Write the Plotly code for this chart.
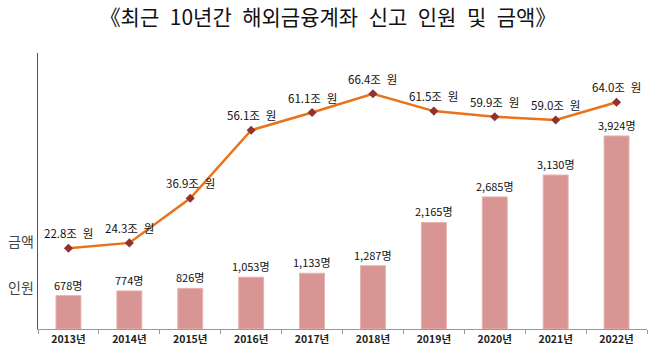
import plotly.graph_objects as go

years = ["2013년", "2014년", "2015년", "2016년", "2017년", "2018년", "2019년", "2020년", "2021년", "2022년"]
people = [678, 774, 826, 1053, 1133, 1287, 2165, 2685, 3130, 3924]
amounts = [22.8, 24.3, 36.9, 56.1, 61.1, 66.4, 61.5, 59.9, 59.0, 64.0]
people_labels = [f"{v:,}명" for v in people]
amount_labels = [f"{v:.1f}조\u2002원" for v in amounts]
title_text = "《최근\u200210년간\u2002해외금융계좌\u2002신고\u2002인원\u2002및\u2002금액》"

FONT = "Noto Sans CJK KR"

W, H = 670, 356
# plot area in page pixels: x 38..647, y 53..329 (page body margin removed below)
ml, mt = 38, 53
mr, mb = W - 647, H - 329
pw, ph = W - ml - mr, H - mt - mb

fig = go.Figure()
fig.add_trace(go.Bar(
    x=years, y=people, width=0.41,
    marker=dict(color="#d99593", line=dict(width=1, color="#e7b3b1")),
    yaxis="y", hoverinfo="skip",
))
fig.add_trace(go.Scatter(
    x=years, y=amounts, yaxis="y2", mode="lines+markers",
    line=dict(color="#ea7219", width=2.5),
    marker=dict(symbol="diamond", size=7, color="#8e3232"),
    hoverinfo="skip",
))

annotations = []
for x, v, t in zip(years, people, people_labels):
    annotations.append(dict(x=x, y=v, xref="x", yref="y", text=t, showarrow=False,
                            yshift=11, font=dict(family=FONT, size=11, color="#111")))
for x, v, t in zip(years, amounts, amount_labels):
    annotations.append(dict(x=x, y=v, xref="x", yref="y2", text=t, showarrow=False,
                            yshift=15, font=dict(family=FONT, size=11.5, color="#111")))
for txt, py in (("금액", 241), ("인원", 287)):
    annotations.append(dict(x=(21 - ml) / pw, y=1 - (py - mt) / ph,
                            xref="paper", yref="paper",
                            text=txt, showarrow=False, xanchor="center", yanchor="middle",
                            font=dict(family=FONT, size=14, color="#444")))

fig.update_layout(
    width=W, height=H,
    margin=dict(l=ml, r=mr, t=mt, b=mb, autoexpand=False),
    paper_bgcolor="white", plot_bgcolor="white",
    showlegend=False,
    title=dict(text=title_text, x=328 / W, xanchor="center",
               y=1 - 18 / H, yanchor="middle",
               font=dict(family=FONT, size=21, color="#111")),
    xaxis=dict(type="category", range=[-0.5, 9.5], showline=True, linecolor="#999", linewidth=1,
               ticks="outside", ticklen=4, tickcolor="#999", tickson="boundaries", automargin=False,
               tickfont=dict(family=FONT, size=10.5, color="#222", weight="bold"),
               showgrid=False, zeroline=False),
    yaxis=dict(range=[0, 5610], showline=True, linecolor="#555", linewidth=1.5, automargin=False,
               showticklabels=False, ticks="", showgrid=False, zeroline=False),
    yaxis2=dict(range=[0, 77.9], overlaying="y", side="right", showline=False, automargin=False,
                showticklabels=False, ticks="", showgrid=False, zeroline=False),
    annotations=annotations,
)

fig.write_html("out.html", config={"displayModeBar": False, "staticPlot": True},
               post_script="document.body.style.margin='0';")
